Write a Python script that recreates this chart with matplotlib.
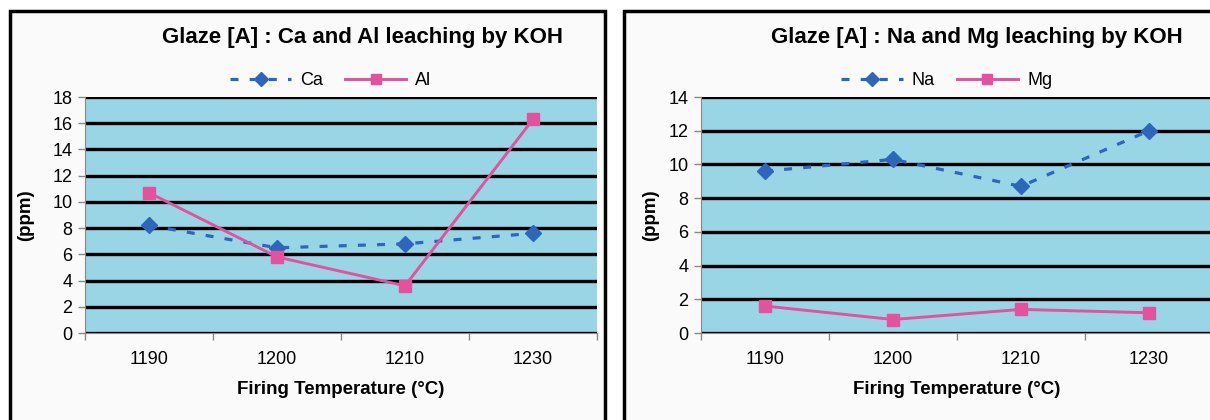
import matplotlib
matplotlib.use("Agg")
import matplotlib.pyplot as plt
from matplotlib.patches import Rectangle

plt.rcParams['font.family'] = ['Liberation Sans', 'DejaVu Sans']

########################################################
# Data
########################################################
temps = ["1190", "1200", "1210", "1230"]

ca = [8.2, 6.5, 6.8, 7.6]
al = [10.7, 5.8, 3.6, 16.3]

na = [9.6, 10.3, 8.7, 12.0]
mg = [1.6, 0.8, 1.4, 1.2]

titles = ["Glaze [A] : Ca and Al leaching by KOH",
          "Glaze [A] : Na and Mg leaching by KOH"]
y_max = [18, 14]

BLUE = "#2E66BC"
PINK = "#E4519F"
BG = "#98D6E6"

W, H = 1210, 420
fig = plt.figure(figsize=(W / 100, H / 100), dpi=100)
fig.patch.set_facecolor("white")

# panel frames (chart boxes)
for x0, x1 in [(10, 605), (624, 1230)]:
    fig.patches.append(Rectangle((x0 / W, -0.1), (x1 - x0) / W, (H - 11) / H + 0.1,
                                 transform=fig.transFigure, facecolor="#FAFAFA",
                                 edgecolor="black", linewidth=2.5, zorder=-5))

ax_left = fig.add_axes([85 / W, 87 / H, 512 / W, 236 / H])
ax_right = fig.add_axes([701 / W, 87 / H, 512 / W, 236 / H])

series = [(ax_left, ca, al, "Ca", "Al", 362, 13),
          (ax_right, na, mg, "Na", "Mg", 977, 7)]

for i, (ax, s1, s2, n1, n2, cx, ypad) in enumerate(series):
    x = range(len(temps))
    ax.set_facecolor(BG)
    ax.plot(x, s1, linestyle=(0, (2.5, 3.5)), color=BLUE, linewidth=2.3,
            marker="D", markersize=8, label=n1, zorder=3)
    ax.plot(x, s2, linestyle="-", color=PINK, linewidth=2.1,
            marker="s", markersize=8, label=n2, zorder=4)

    ax.set_xlim(-0.5, len(temps) - 0.5)
    ax.set_ylim(0, y_max[i])
    ax.set_yticks(range(0, y_max[i] + 1, 2))
    ax.set_xticks(list(x))
    ax.set_xticklabels(temps)
    ax.set_xticks([k + 0.5 for k in range(-1, len(temps))], minor=True)
    ax.tick_params(axis="x", which="major", length=0, pad=13, labelsize=13)
    ax.tick_params(axis="x", which="minor", length=5, color="#888888", width=1)
    ax.tick_params(axis="y", length=5, color="#888888", width=1, labelsize=13, pad=4)

    ax.grid(axis="y", color="black", linewidth=2.4)
    ax.set_axisbelow(True)
    for side in ["top", "right"]:
        ax.spines[side].set_visible(False)
    ax.spines["left"].set_color("#888888")
    ax.spines["bottom"].set_color("#888888")

    ax.set_xlabel("Firing Temperature (°C)", fontsize=13.5, fontweight="bold", labelpad=9)
    ax.set_ylabel("(ppm)", fontsize=13.5, fontweight="bold", labelpad=ypad)

    fig.text(cx / W, 1 - 38 / H, titles[i], ha="center", va="center",
             fontsize=16, fontweight="bold")
    ax.legend(loc="center", bbox_to_anchor=(0.48, 1.07), ncol=2, frameon=False,
              fontsize=13, handlelength=3.4, handletextpad=0.5, columnspacing=1.2,
              borderaxespad=0, markerscale=0.9)

fig.savefig("out.png", dpi=100, facecolor=fig.get_facecolor())
